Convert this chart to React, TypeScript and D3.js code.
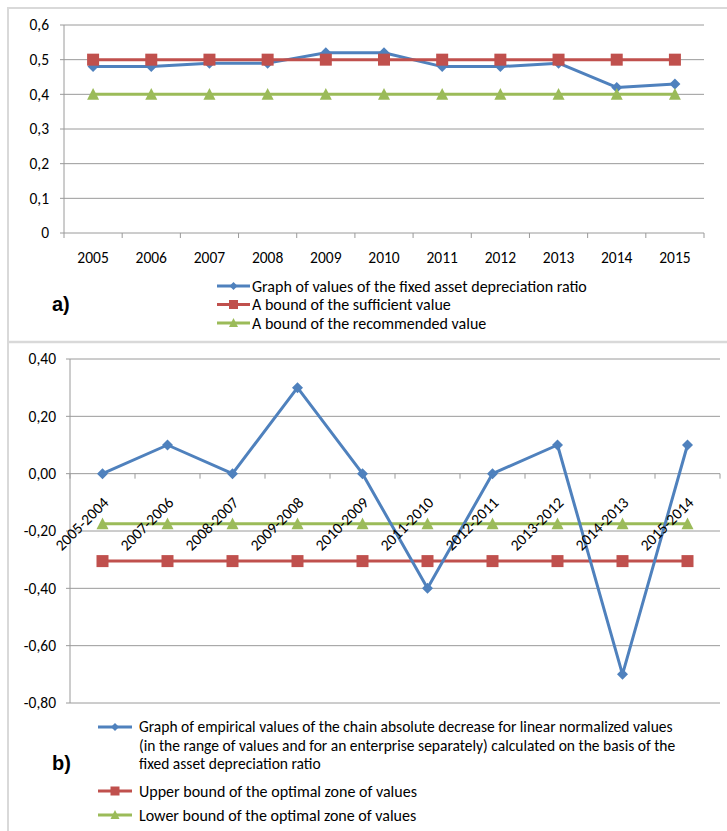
import React, { useEffect, useRef } from 'react';
import * as d3 from 'd3';

// panel a
const years = ['2005', '2006', '2007', '2008', '2009', '2010', '2011', '2012', '2013', '2014', '2015'];
const depreciation = [0.48, 0.48, 0.49, 0.49, 0.52, 0.52, 0.48, 0.48, 0.49, 0.42, 0.43];
const sufficient = [0.5, 0.5, 0.5, 0.5, 0.5, 0.5, 0.5, 0.5, 0.5, 0.5, 0.5];
const recommended = [0.4, 0.4, 0.4, 0.4, 0.4, 0.4, 0.4, 0.4, 0.4, 0.4, 0.4];
const ticksA = [0, 0.1, 0.2, 0.3, 0.4, 0.5, 0.6];
const legendA = [
  'Graph of values of the fixed asset depreciation ratio',
  'A bound of the sufficient value',
  'A bound of the recommended value',
];

// panel b
const periods = ['2005-2004', '2007-2006', '2008-2007', '2009-2008', '2010-2009', '2011-2010', '2012-2011', '2013-2012', '2014-2013', '2015-2014'];
const chainDecrease = [0, 0.1, 0, 0.3, 0, -0.4, 0, 0.1, -0.7, 0.1];
const upperBound = [-0.305, -0.305, -0.305, -0.305, -0.305, -0.305, -0.305, -0.305, -0.305, -0.305];
const lowerBound = [-0.175, -0.175, -0.175, -0.175, -0.175, -0.175, -0.175, -0.175, -0.175, -0.175];
const ticksB = [-0.8, -0.6, -0.4, -0.2, 0, 0.2, 0.4];
const legendB1 = [
  'Graph of empirical values of the chain absolute decrease for linear normalized values',
  '(in the range of values and for an enterprise separately) calculated on the basis of the',
  'fixed asset depreciation ratio',
];
const legendB = ['Upper bound of the optimal zone of values', 'Lower bound of the optimal zone of values'];

const BLUE = '#4f81bd';
const RED = '#c0504d';
const GREEN = '#9bbb59';
const GRID = '#9a9a9a';
const FONT = 'Carlito, Calibri, Roboto, sans-serif';
const TICK = 15.5;
const LEG = 16;

type Sel = d3.Selection<SVGGElement, unknown, null, undefined>;

function marker(g: Sel, kind: string, x: number, y: number, color: string, s: number) {
  if (kind === 'diamond') {
    g.append('path')
      .attr('d', `M${x},${y - s / 2}L${x + s / 2},${y}L${x},${y + s / 2}L${x - s / 2},${y}Z`)
      .attr('fill', color);
  } else if (kind === 'square') {
    g.append('rect').attr('x', x - s / 2).attr('y', y - s / 2).attr('width', s).attr('height', s).attr('fill', color);
  } else {
    const h = s * 0.9;
    g.append('path')
      .attr('d', `M${x},${y - h / 2 - 1}L${x + s / 2},${y + h / 2}L${x - s / 2},${y + h / 2}Z`)
      .attr('fill', color);
  }
}

function series(g: Sel, labels: string[], vals: number[], x: d3.ScaleBand<string>, y: d3.ScaleLinear<number, number>, color: string, kind: string, s: number) {
  const cx = (d: string) => (x(d) as number) + x.bandwidth() / 2;
  const line = d3.line<number>().x((d, i) => cx(labels[i])).y((d) => y(d));
  g.append('path').attr('d', line(vals) as string).attr('fill', 'none').attr('stroke', color).attr('stroke-width', 3).attr('stroke-linejoin', 'round');
  vals.forEach((v, i) => marker(g, kind, cx(labels[i]), y(v), color, s));
}

function legendLine(g: Sel, x1: number, x2: number, y: number, color: string, kind: string) {
  g.append('line').attr('x1', x1).attr('x2', x2).attr('y1', y).attr('y2', y).attr('stroke', color).attr('stroke-width', 3);
  marker(g, kind, (x1 + x2) / 2, y, color, kind === 'diamond' ? 8 : 9);
}

export default function App() {
  const ref = useRef<SVGSVGElement>(null);

  useEffect(() => {
    const svg = d3.select(ref.current as SVGSVGElement);
    svg.selectAll('*').remove();
    const g = svg.append('g') as unknown as Sel;

    // frames
    g.append('line').attr('x1', 8).attr('x2', 8).attr('y1', 7).attr('y2', 831).attr('stroke', '#d9d9d9').attr('stroke-width', 2);
    g.append('line').attr('x1', 7).attr('x2', 727).attr('y1', 8).attr('y2', 8).attr('stroke', '#d9d9d9').attr('stroke-width', 2);
    g.append('line').attr('x1', 7).attr('x2', 727).attr('y1', 342).attr('y2', 342).attr('stroke', '#d9d9d9').attr('stroke-width', 2.5);

    // ---------- panel a ----------
    const xA = d3.scaleBand<string>().domain(years).range([64, 704]);
    const yA = d3.scaleLinear().domain([0, 0.6]).range([233, 25]);

    ticksA.forEach((t) => {
      if (t > 0) g.append('line').attr('x1', 64).attr('x2', 704).attr('y1', yA(t)).attr('y2', yA(t)).attr('stroke', GRID);
      g.append('line').attr('x1', 60).attr('x2', 64).attr('y1', yA(t)).attr('y2', yA(t)).attr('stroke', GRID);
      g.append('text').attr('x', 49).attr('y', yA(t)).attr('dy', '0.35em').attr('text-anchor', 'end')
        .attr('font-family', FONT).attr('font-size', TICK).attr('fill', '#000').text(String(t).replace('.', ','));
    });
    g.append('line').attr('x1', 64).attr('x2', 64).attr('y1', yA(0.6)).attr('y2', yA(0)).attr('stroke', GRID);
    g.append('line').attr('x1', 64).attr('x2', 704).attr('y1', yA(0)).attr('y2', yA(0)).attr('stroke', GRID);
    years.concat(['end']).forEach((d, i) => {
      const xx = 64 + i * xA.step();
      g.append('line').attr('x1', xx).attr('x2', xx).attr('y1', yA(0)).attr('y2', yA(0) + 5).attr('stroke', GRID);
    });
    years.forEach((d) => {
      g.append('text').attr('x', (xA(d) as number) + xA.bandwidth() / 2).attr('y', 258).attr('dy', '0.35em')
        .attr('text-anchor', 'middle').attr('font-family', FONT).attr('font-size', TICK).text(d);
    });

    series(g, years, depreciation, xA, yA, BLUE, 'diamond', 11);
    series(g, years, sufficient, xA, yA, RED, 'square', 12);
    series(g, years, recommended, xA, yA, GREEN, 'triangle', 12);

    const kinds = ['diamond', 'square', 'triangle'];
    const colors = [BLUE, RED, GREEN];
    legendA.forEach((t, i) => {
      const yy = 286 + i * 18.5;
      legendLine(g, 217, 250, yy, colors[i], kinds[i]);
      g.append('text').attr('x', 252).attr('y', yy).attr('dy', '0.35em').attr('font-family', FONT).attr('font-size', LEG).text(t);
    });
    g.append('text').attr('x', 52).attr('y', 304).attr('dy', '0.35em').attr('font-family', 'Liberation Sans, Arial, sans-serif')
      .attr('font-size', 20).attr('font-weight', 'bold').text('a)');

    // ---------- panel b ----------
    const xB = d3.scaleBand<string>().domain(periods).range([70, 720]);
    const yB = d3.scaleLinear().domain([-0.8, 0.4]).range([703, 359]);

    ticksB.forEach((t) => {
      g.append('line').attr('x1', 66).attr('x2', 720).attr('y1', yB(t)).attr('y2', yB(t)).attr('stroke', GRID);
      g.append('text').attr('x', 56).attr('y', yB(t)).attr('dy', '0.35em').attr('text-anchor', 'end')
        .attr('font-family', FONT).attr('font-size', TICK).text(d3.format('.2f')(t).replace('.', ',').replace('−', '-'));
    });
    g.append('line').attr('x1', 70).attr('x2', 70).attr('y1', yB(0.4)).attr('y2', yB(-0.8)).attr('stroke', GRID);
    periods.concat(['end']).forEach((d, i) => {
      const xx = 70 + i * xB.step();
      g.append('line').attr('x1', xx).attr('x2', xx).attr('y1', yB(0)).attr('y2', yB(0) + 5).attr('stroke', GRID);
    });

    series(g, periods, upperBound, xB, yB, RED, 'square', 12);
    series(g, periods, lowerBound, xB, yB, GREEN, 'triangle', 12);
    series(g, periods, chainDecrease, xB, yB, BLUE, 'diamond', 11);

    periods.forEach((d) => {
      const cx = (xB(d) as number) + xB.bandwidth() / 2 + 7;
      const cy = yB(0) + 30;
      g.append('text').attr('transform', `translate(${cx},${cy}) rotate(-45)`).attr('text-anchor', 'end')
        .attr('font-family', FONT).attr('font-size', TICK).text(d);
    });

    legendB1.forEach((t, i) => {
      g.append('text').attr('x', 139).attr('y', 727 + i * 18.5).attr('dy', '0.35em').attr('font-family', FONT).attr('font-size', 15.5).text(t);
    });
    legendLine(g, 98, 132, 727, BLUE, 'diamond');
    legendB.forEach((t, i) => {
      const yy = 791 + i * 24;
      legendLine(g, 98, 132, yy, [RED, GREEN][i], ['square', 'triangle'][i]);
      g.append('text').attr('x', 139).attr('y', yy).attr('dy', '0.35em').attr('font-family', FONT).attr('font-size', LEG).text(t);
    });
    g.append('text').attr('x', 52).attr('y', 763).attr('dy', '0.35em').attr('font-family', 'Liberation Sans, Arial, sans-serif')
      .attr('font-size', 20).attr('font-weight', 'bold').text('b)');
  }, []);

  return (
    <svg ref={ref} width={727} height={831} style={{ position: 'absolute', left: 0, top: 0, background: '#fff' }} />
  );
}
